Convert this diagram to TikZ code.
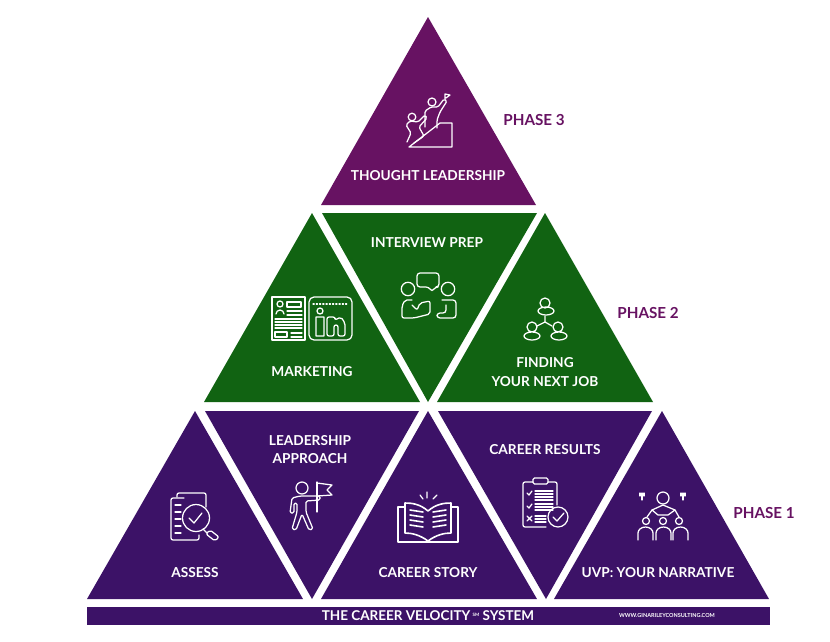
\documentclass[tikz,border=0pt]{standalone}
\usepackage{fontspec}
\setmainfont{Lato}[BoldFont={Lato Bold}]
\definecolor{phaseone}{RGB}{60,18,103}
\definecolor{phasetwo}{RGB}{17,99,18}
\definecolor{phasethree}{RGB}{103,18,98}
\usetikzlibrary{positioning}

\begin{document}
\begin{tikzpicture}[x=1pt, y=-1pt,
    label/.style={text=white, font=\fontsize{13.7}{18.8}\selectfont\bfseries, align=center, inner sep=0pt},
    phase/.style={text=phasethree, font=\fontsize{15.2}{18}\selectfont\bfseries, inner sep=0pt},
    icon/.style={draw=white, line width=1.25pt, line join=round, line cap=round}]
    \useasboundingbox (0,0) rectangle (830,641);

    % Top triangle
    \fill[phasethree] (428,17) -- (536,205) -- (321,205) -- cycle;
    % Middle row
    \fill[phasetwo] (312,213) -- (420,402) -- (204,402) -- cycle;
    \fill[phasetwo] (322,213) -- (537,213) -- (428,402) -- cycle;
    \fill[phasetwo] (545,213) -- (653,402) -- (437,402) -- cycle;
    % Bottom row
    \fill[phaseone] (195,411) -- (303,599) -- (87,599) -- cycle;
    \fill[phaseone] (205,411) -- (419,411) -- (312,599) -- cycle;
    \fill[phaseone] (428,411) -- (537,599) -- (321,599) -- cycle;
    \fill[phaseone] (438,411) -- (652,411) -- (546,599) -- cycle;
    \fill[phaseone] (662,411) -- (769,599) -- (554,599) -- cycle;
    % Footer bar
    \fill[phaseone] (87,607) rectangle (770,625);

    % Labels
    \node[label] (thought) at (428,175.5) {THOUGHT LEADERSHIP};
    \node[label] (interview) at (427,243) {INTERVIEW PREP};
    \node[label] (marketing) at (312,371.5) {MARKETING};
    \node[label] (finding) at (545,372) {FINDING\\YOUR NEXT JOB};
    \node[label] (assess) at (195,572.5) {ASSESS};
    \node[label] (approach) at (310,449.5) {LEADERSHIP\\APPROACH};
    \node[label] (story) at (428,572.5) {CAREER STORY};
    \node[label] (results) at (545,449.5) {CAREER RESULTS};
    \node[label] (narrative) at (658,572.5) {UVP: YOUR NARRATIVE};
    \node[label, font=\fontsize{13.5}{18}\selectfont\bfseries] (system) at (428,615.5) {THE CAREER VELOCITY\,\raisebox{4pt}{\fontsize{4.5}{5}\selectfont SM} SYSTEM};
    \node[label, font=\fontsize{5.5}{6}\selectfont\bfseries] (website) at (667,615) {WWW.GINARILEYCONSULTING.COM};

    % Phase names
    \node[phase] (phase3) at (534,119.5) {PHASE 3};
    \node[phase] (phase2) at (648,312.5) {PHASE 2};
    \node[phase] (phase1) at (764,512.5) {PHASE 1};

    % Climbing icon
    \draw[icon] (409,147) -- (440,123) -- (452,123) -- (452,147) -- cycle;
    \draw[icon] (412,117) circle (3.8) (432,102) circle (4);
    \draw[icon, rounded corners=1.5] (407,142) -- (411,133) -- (406,125) -- (410,121) -- (418,122) -- (425,115) -- (427,118) -- (419,127) -- (424,136) -- (414,143);
    \draw[icon, rounded corners=1.5] (425,127) -- (425,111) -- (431,107) -- (438,107) -- (444,99) -- (447,101) -- (440,112) -- (437,120) -- (437,128);
    \draw[icon] (445,99) -- (445,94) -- (450,95) -- (446,98);

    % Resume and linkedin icon
    \draw[icon] (272,297) rectangle (305,340);
    \draw[icon] (280,304) circle (3) (276,314) arc (180:360:4 and 4);
    \draw[icon] (287,302) rectangle (301,307) (275,332) rectangle (287,337);
    \foreach \y in {311,315,319,322,325,328}
        \draw[icon] (\ifnum\y<319 287\else 275\fi,\y) -- (302,\y);
    \draw[icon] (291,333) -- (302,333) (291,337) -- (302,337);
    \draw[icon, rounded corners=5] (309,297) rectangle (352,340);
    \draw[icon, dotted] (313,304) -- (348,304);
    \draw[icon] (320,311) circle (3) (316,317) rectangle (324,336);
    \draw[icon, rounded corners=2] (327,336) -- (327,317) -- (335,317) -- (335,320) -- (341,317) -- (345,323) -- (345,336) -- (338,336) -- (338,325) -- (334,325) -- (334,336) -- cycle;

    % Interview icon
    \draw[icon] (408,289) circle (6.7) (448,289) circle (6.7);
    \draw[icon, rounded corners=3] (417,273) -- (439,273) -- (439,287) -- (435,287) -- (432,292) -- (429,287) -- (417,287) -- cycle;
    \draw[icon, rounded corners=2] (412,300) -- (405,300) -- (402,306) -- (402,318) -- (414,318) -- (430,314) -- (430,301) -- (420,303) -- (417,310) -- (412,305);
    \draw[icon, rounded corners=3] (442,300) -- (456,300) -- (456,318) -- (437,318) -- (437,313) -- (446,313) -- (446,305);

    % Network icon
    \draw[icon] (545,303) circle (5) (546,311) ellipse (8 and 4);
    \draw[icon] (532,327) circle (5) (532,336) ellipse (8 and 4);
    \draw[icon] (558,327) circle (5) (559,336) ellipse (8 and 4);
    \draw[icon] (545,316) -- (545,322) -- (537,326) (545,322) -- (552,326);

    % Assess icon
    \draw[icon, rounded corners=2] (177,497) -- (177,493) -- (206,493) -- (206,507);
    \draw[icon, rounded corners=2] (184,498) -- (171,498) -- (171,540) -- (199,540) -- (199,535);
    \draw[icon] (196,518) circle (13.5);
    \draw[icon] (189,518) -- (194,523) -- (202,513);
    \foreach \y in {505,512,519,526,533}
        \draw[icon] (175,\y) -- (181,\y);
    \draw[icon, rounded corners=2] (206,534) -- (210,530) -- (219,537) -- (215,541) -- cycle;
    \draw[icon] (203,529) -- (207,533);

    % Flag icon
    \draw[icon] (302,488) circle (6);
    \draw[icon, rounded corners=1.5] (290,513) -- (292,498) -- (300,496) -- (320,496) -- (320,500) -- (306,501) -- (306,512) -- (313,529) -- (309,530) -- (302,514) -- (296,530) -- (292,529) -- (297,512) -- (297,503) -- (294,503) -- (294,513) -- cycle;
    \draw[icon] (317,482) -- (317,512);
    \draw[icon] (317,483) -- (332,485) -- (327,490) -- (332,495) -- (317,496);

    % Book icon
    \draw[icon, line width=1.6pt] (405,507) -- (398,507) -- (398,542) -- (458,542) -- (458,507) -- (451,507);
    \draw[icon, line width=1.6pt] (428,511) .. controls (420,504) and (412,503) .. (405,503) -- (405,533) .. controls (412,533) and (420,535) .. (428,541) .. controls (436,535) and (444,533) .. (451,533) -- (451,503) .. controls (444,503) and (436,504) .. (428,511) -- cycle;
    \foreach \y in {510,515,520,525}
        \draw[icon, line width=1.6pt] (410,\y) -- (423,\y+2) (433,\y+2) -- (446,\y);
    \draw[icon] (420,495) -- (423,499) (427,492) -- (427,498) (437,495) -- (433,499);

    % Clipboard icon
    \draw[icon, rounded corners=2] (548,482) -- (557,482) -- (557,505) (546,527) -- (523,527) -- (523,482) -- (533,482);
    \draw[icon, rounded corners=1.5] (533,478) rectangle (548,484);
    \draw[icon, fill=phaseone] (558,517) circle (10);
    \draw[icon] (553,517) -- (557,521) -- (564,513);
    \foreach \y in {493,506}
        \draw[icon] (527,\y) -- (529,\y+2) -- (532,\y-2);
    \draw[icon] (527,516) -- (532,521) (532,516) -- (527,521);
    \foreach \y in {491,494,497,500,504,507,510}
        \draw[icon] (535,\y) -- (553,\y);
    \foreach \y in {516,519,522}
        \draw[icon] (535,\y) -- (546,\y);

    % Narrative icon
    \draw[icon] (663,498) circle (6);
    \draw[icon] (652,510) -- (663,505) -- (675,510) -- (668,515) -- (658,515) -- cycle;
    \draw[icon] (652,510) -- (647,517) (675,510) -- (679,517);
    \draw[icon] (646,521) circle (3.5) (663,521) circle (3.5) (679,521) circle (3.5);
    \draw[icon] (638,540) -- (638,533) arc (180:360:7.5 and 6) -- (653,540);
    \draw[icon] (656,540) -- (656,533) arc (180:360:7.5 and 6) -- (671,540);
    \draw[icon] (673,540) -- (673,533) arc (180:360:7.5 and 6) -- (688,540);
    \draw[icon] (640,493) -- (640,496) (642,493) -- (642,500) (644,493) -- (644,496);
    \draw[icon] (681,493) -- (681,496) (683,493) -- (683,500) (685,493) -- (685,496);
\end{tikzpicture}
\end{document}
